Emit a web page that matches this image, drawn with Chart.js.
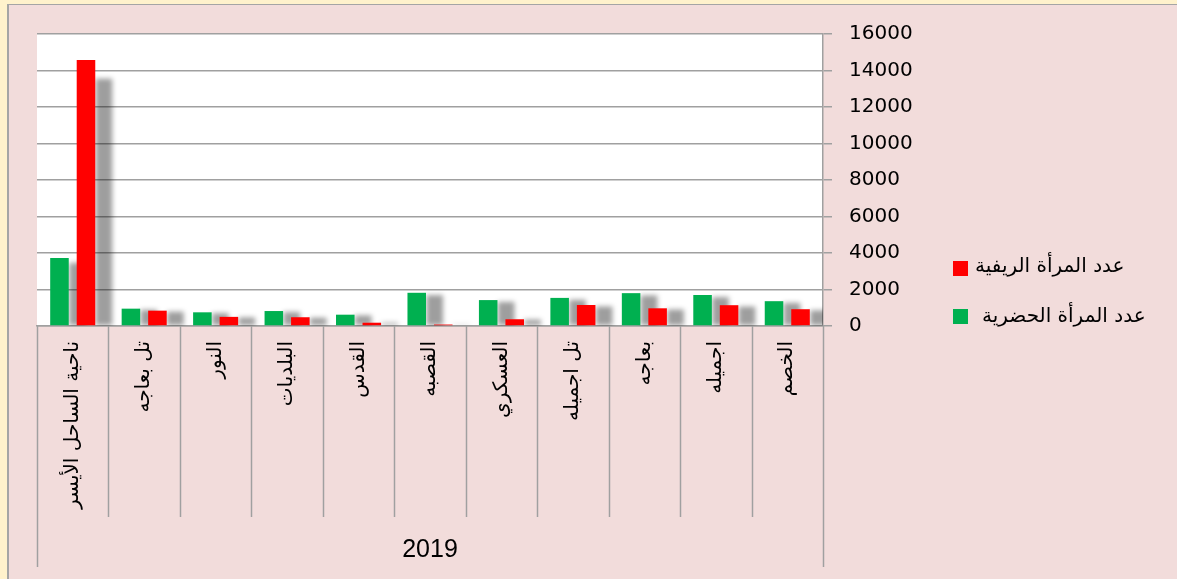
<!DOCTYPE html>
<html><head><meta charset="utf-8">
<script src="https://cdn.jsdelivr.net/npm/chart.js"></script>
<style>
html,body{margin:0;padding:0;background:#FFF2CC;width:1177px;height:579px;overflow:hidden}
#box{position:absolute;left:7px;top:4px;width:1168px;height:575px;border-left:2px solid #A5A5A5;border-top:1px solid #A5A5A5;background:#F2DCDB}
#c{display:block}
</style></head><body>
<div id="box"><canvas id="c" width="1168" height="574"></canvas></div>
<script>
const categories = ['ناحية الساحل الأيسر','تل بعاجه','النور','البلديات','القدس','القصبه','العسكري','تل اجميله','بعاجه','اجميله','الخصم'];
const urbanWomen = [3720, 950, 750, 820, 620, 1820, 1420, 1540, 1800, 1700, 1360];
const ruralWomen = [14570, 840, 500, 480, 180, 80, 370, 1150, 970, 1140, 920];
const seriesNames = ['عدد المرأة الحضرية', 'عدد المرأة الريفية'];
const groupLabel = '2019';
const yMin = 0, yMax = 16000, yStep = 2000;

const GRID = '#A0A0A0';

// white plot area + soft gray shadows behind bars
const plotBgAndShadow = {
  id: 'plotBgAndShadow',
  beforeDraw(chart) {
    const {ctx, chartArea: a} = chart;
    ctx.save();
    ctx.fillStyle = '#FFFFFF';
    ctx.fillRect(a.left, a.top, a.right - a.left, a.bottom - a.top);
    ctx.restore();
  },
  beforeDatasetsDraw(chart) {
    const {ctx, chartArea: a} = chart;
    ctx.save();
    ctx.beginPath();
    ctx.rect(a.left, a.top, a.right - a.left, a.bottom - a.top);
    ctx.clip();
    ctx.filter = 'blur(2.5px)';
    ctx.fillStyle = 'rgba(0,0,0,0.38)';
    chart.getSortedVisibleDatasetMetas().forEach(meta => {
      meta.data.forEach(el => {
        const {x, y, base, width} = el.getProps(['x', 'y', 'base', 'width'], true);
        const h = (base - y) * 0.93;
        ctx.fillRect(x - width / 2 + 19, base - h, width - 2, h);
      });
    });
    ctx.restore();
  }
};

const groupAxisPlugin = {
  id: 'groupAxis',
  afterDraw(chart) {
    const {ctx, chartArea} = chart;
    const x = chart.scales.x;
    const n = chart.data.labels.length;
    ctx.save();
    ctx.strokeStyle = GRID;
    ctx.lineWidth = 1.5;
    for (let k = 0; k <= n; k++) {
      const px = Math.round(x.getPixelForValue(k - 0.5)) + 0.5;
      const y2 = (k === 0 || k === n) ? 562 : 512;
      ctx.beginPath();
      ctx.moveTo(px, chartArea.bottom);
      ctx.lineTo(px, y2);
      ctx.stroke();
    }
    // legend (rural first, then urban)
    const items = [
      {ds: chart.data.datasets[1], bx: 944, by: 256, tx: 966, ty: 262},
      {ds: chart.data.datasets[0], bx: 944, by: 304, tx: 973, ty: 312}
    ];
    ctx.font = '20px "DejaVu Sans", sans-serif';
    ctx.textBaseline = 'middle';
    ctx.textAlign = 'left';
    for (const it of items) {
      ctx.fillStyle = it.ds.backgroundColor;
      ctx.fillRect(it.bx, it.by, 15, 15);
      ctx.fillStyle = '#000';
      ctx.fillText(it.ds.label, it.tx, it.ty);
    }
    ctx.restore();
  }
};

new Chart(document.getElementById('c'), {
  type: 'bar',
  data: {
    labels: categories,
    datasets: [
      {label: seriesNames[0], data: urbanWomen, backgroundColor: '#00B050',
       categoryPercentage: 0.742, barPercentage: 0.70},
      {label: seriesNames[1], data: ruralWomen, backgroundColor: '#FF0000',
       categoryPercentage: 0.742, barPercentage: 0.70}
    ]
  },
  options: {
    responsive: false,
    animation: false,
    devicePixelRatio: 1,
    layout: {padding: {left: 28, top: 28, right: 254, bottom: 0}},
    plugins: {legend: {display: false}, tooltip: {enabled: false}},
    scales: {
      x: {
        grid: {display: false, drawTicks: false},
        border: {display: true, color: GRID, width: 1.5},
        ticks: {minRotation: 90, maxRotation: 90, padding: 15, color: '#000',
                font: {family: '"DejaVu Sans", sans-serif', size: 20}, autoSkip: false},
        title: {display: true, text: groupLabel, color: '#000',
                font: {family: '"Liberation Sans", Arial, sans-serif', size: 25},
                padding: {top: 0, bottom: 14}},
        afterFit(s) { s.height = 253; }
      },
      y: {
        position: 'right',
        min: yMin, max: yMax,
        grid: {color: GRID, lineWidth: 1.5, tickLength: 9},
        border: {display: true, color: GRID, width: 1.5},
        ticks: {stepSize: yStep, padding: 17, color: '#000',
                font: {family: '"DejaVu Sans", sans-serif', size: 20},
                callback: v => String(v)},
        afterFit(s) { s.width = 100; }
      }
    }
  },
  plugins: [plotBgAndShadow, groupAxisPlugin]
});
</script>
</body></html>
